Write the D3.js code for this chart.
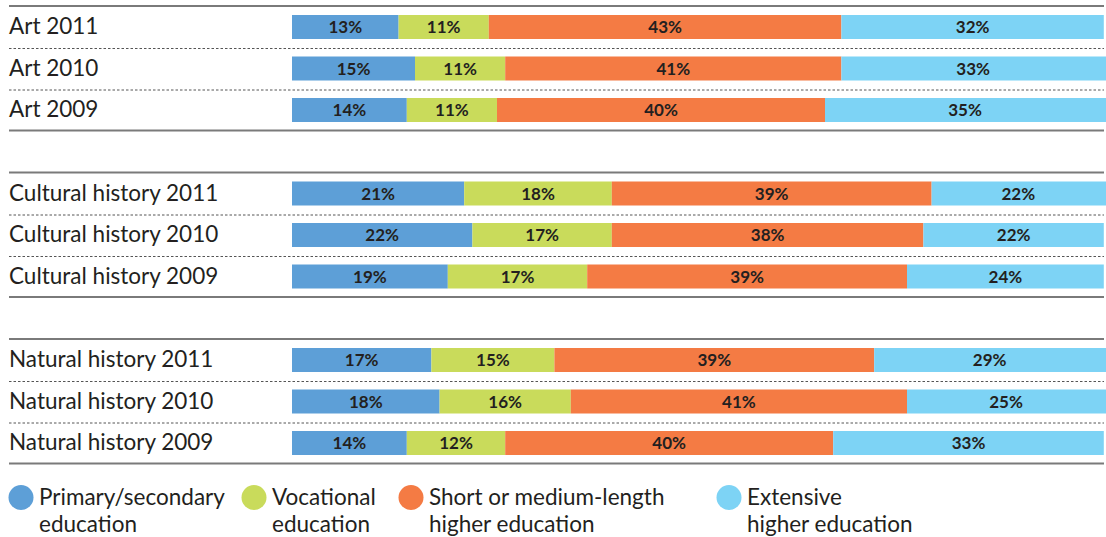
<!DOCTYPE html>
<html>
<head>
<meta charset="utf-8">
<script src="https://cdn.jsdelivr.net/npm/d3@7/dist/d3.min.js"></script>
<style>
  html, body { margin: 0; padding: 0; background: #fff; }
  svg { display: block; }
  text { font-family: Lato, "Open Sans", sans-serif; }
</style>
</head>
<body>
<svg id="chart" width="1106" height="537"></svg>
<script>
const groups = ["Art", "Cultural history", "Natural history"];
const years = ["2011", "2010", "2009"];
const series = ["Primary/secondary education", "Vocational education", "Short or medium-length higher education", "Extensive higher education"];
const legendLines = [["Primary/secondary", "education"], ["Vocational", "education"], ["Short or medium-length", "higher education"], ["Extensive", "higher education"]];
const colors = ["#5d9fd7", "#c9db5b", "#f47b44", "#7dd3f5"];

const primary    = [13, 15, 14, 21, 22, 19, 17, 18, 14];
const vocational = [11, 11, 11, 18, 17, 17, 15, 16, 12];
const shortMed   = [43, 41, 40, 39, 38, 39, 39, 41, 40];
const extensive  = [32, 33, 35, 22, 22, 24, 29, 25, 33];

const rows = [];
groups.forEach((g, gi) => years.forEach((y, yi) => {
  const i = gi * 3 + yi;
  rows.push({ group: g, gi, yi, label: g + " " + y, values: [primary[i], vocational[i], shortMed[i], extensive[i]] });
}));

const W = 1106;
const svg = d3.select("#chart");
const x = d3.scaleLinear().domain([0, 100]).range([292, 1112]);
const groupTop = d3.scaleLinear().domain([0, 1]).range([6, 172.5]);
const barH = 24, pitch = 41.5, lineX0 = 9, lineX1 = 1104;

// group lines
groups.forEach((g, gi) => {
  const t = groupTop(gi);
  svg.append("line").attr("x1", lineX0).attr("x2", lineX1).attr("y1", t).attr("y2", t)
    .attr("stroke", "#7a7a7a").attr("stroke-width", 2);
  svg.append("line").attr("x1", lineX0).attr("x2", lineX1).attr("y1", t + 124.5).attr("y2", t + 124.5)
    .attr("stroke", "#7a7a7a").attr("stroke-width", 2);
  [0, 1].forEach(k => {
    const yy = t + 42.5 + k * pitch;
    svg.append("line").attr("x1", lineX0).attr("x2", lineX1).attr("y1", yy).attr("y2", yy)
      .attr("stroke", "#555").attr("stroke-width", 1).attr("stroke-dasharray", "2.5,2");
  });
});

const stack = d3.stack().keys([0, 1, 2, 3]).value((d, k) => d.values[k]);
const layers = stack(rows);
const rowY = d => groupTop(d.data.gi) + 9 + d.data.yi * pitch;

layers.forEach((layer, k) => {
  const gL = svg.append("g");
  gL.selectAll("rect").data(layer).join("rect")
    .attr("x", d => x(d[0]))
    .attr("width", d => Math.min(x(d[1]), W) - x(d[0]))
    .attr("y", d => rowY(d))
    .attr("height", barH)
    .attr("fill", colors[k]);
  gL.selectAll("text").data(layer).join("text")
    .attr("x", d => (x(d[0]) + Math.min(x(d[1]), 1105)) / 2)
    .attr("y", d => rowY(d) + barH / 2 + 6)
    .attr("text-anchor", "middle")
    .attr("font-size", 17)
    .attr("font-weight", "bold")
    .attr("fill", "#231f20")
    .text(d => (d[1] - d[0]) + "%");
});

// row labels
svg.selectAll("text.rowlab").data(rows).join("text")
  .attr("class", "rowlab")
  .attr("x", 9)
  .attr("y", d => groupTop(d.gi) + 9 + d.yi * pitch + 19)
  .attr("font-size", 22.5)
  .attr("fill", "#231f20")
  .text(d => d.label);

// legend
const legX = [21, 254, 411, 729];
const leg = svg.selectAll("g.leg").data(series).join("g").attr("class", "leg");
leg.append("circle").attr("cx", (d, i) => legX[i]).attr("cy", 497.5).attr("r", 12.5)
  .attr("fill", (d, i) => colors[i]);
leg.each(function(d, i) {
  const t = d3.select(this).append("text")
    .attr("x", legX[i] + 18).attr("y", 505)
    .attr("font-size", 22.5).attr("fill", "#231f20");
  legendLines[i].forEach((ln, j) => {
    t.append("tspan").attr("x", legX[i] + 18).attr("dy", j === 0 ? 0 : 27).text(ln);
  });
});
</script>
</body>
</html>
